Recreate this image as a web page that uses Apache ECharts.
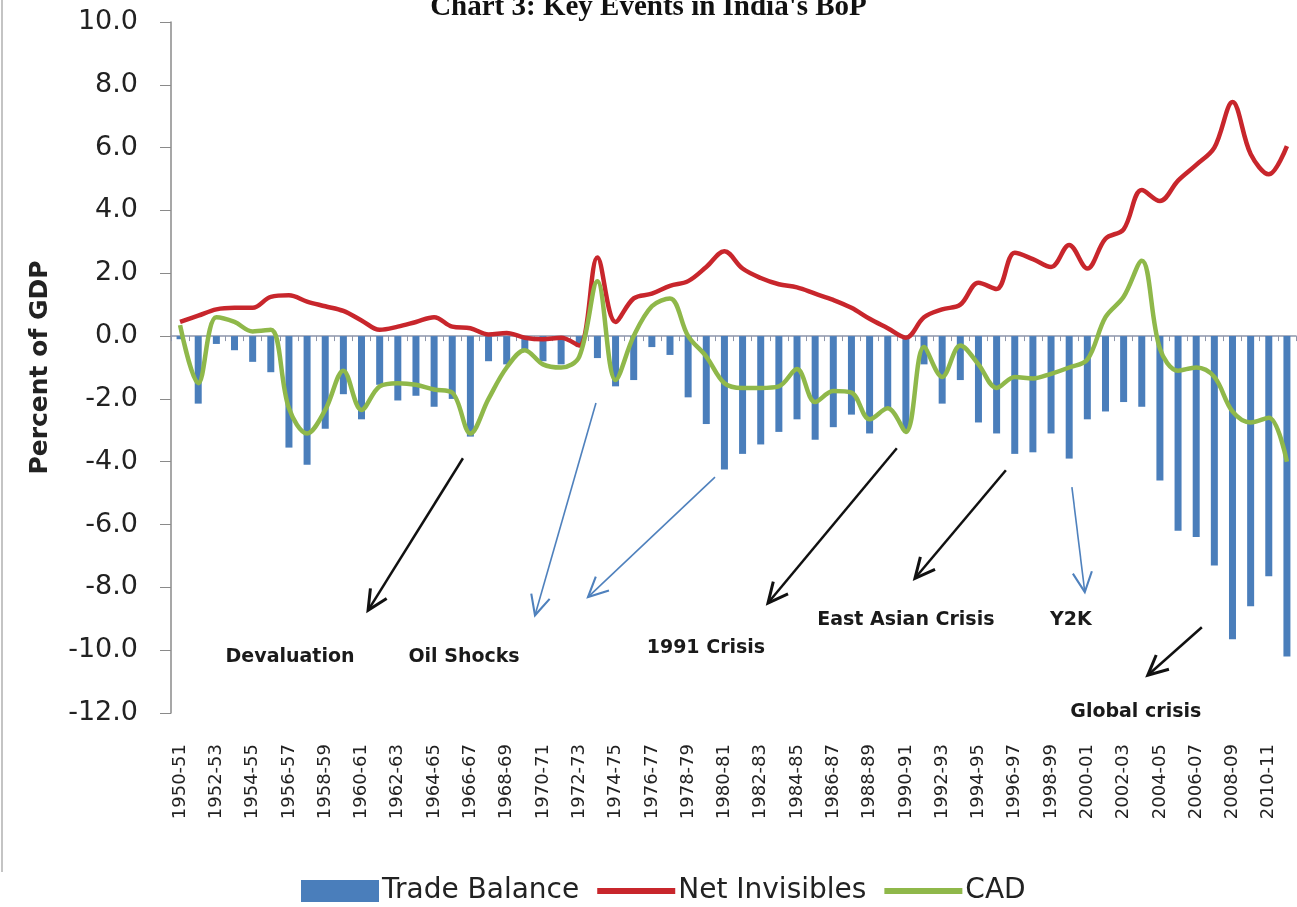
<!DOCTYPE html>
<html>
<head>
<meta charset="utf-8">
<script src="https://cdn.jsdelivr.net/npm/echarts@6/dist/echarts.min.js"></script>
<style>
  html, body { margin: 0; padding: 0; background: #ffffff; }
  #chart { width: 1297px; height: 907px; }
</style>
</head>
<body>
<div id="chart"></div>
<script>
// Fiscal years on the category axis
const years = [
  '1950-51','1951-52','1952-53','1953-54','1954-55','1955-56','1956-57','1957-58','1958-59','1959-60',
  '1960-61','1961-62','1962-63','1963-64','1964-65','1965-66','1966-67','1967-68','1968-69','1969-70',
  '1970-71','1971-72','1972-73','1973-74','1974-75','1975-76','1976-77','1977-78','1978-79','1979-80',
  '1980-81','1981-82','1982-83','1983-84','1984-85','1985-86','1986-87','1987-88','1988-89','1989-90',
  '1990-91','1991-92','1992-93','1993-94','1994-95','1995-96','1996-97','1997-98','1998-99','1999-00',
  '2000-01','2001-02','2002-03','2003-04','2004-05','2005-06','2006-07','2007-08','2008-09','2009-10',
  '2010-11','2011-12'
];

// Percent of GDP
const tradeBalance = [
  -0.1, -2.15, -0.25, -0.45, -0.82, -1.15, -3.55, -4.1, -2.95, -1.85,
  -2.65, -1.55, -2.05, -1.9, -2.25, -2.0, -3.2, -0.8, -0.9, -0.45,
  -0.8, -0.9, -0.35, -0.7, -1.6, -1.4, -0.35, -0.6, -1.95, -2.8,
  -4.25, -3.75, -3.45, -3.05, -2.65, -3.3, -2.9, -2.5, -3.1, -2.3,
  -3.0, -0.9, -2.15, -1.4, -2.75, -3.1, -3.75, -3.7, -3.1, -3.9,
  -2.65, -2.4, -2.1, -2.25, -4.6, -6.2, -6.4, -7.3, -9.65, -8.6,
  -7.65, -10.2
];

const netInvisibles = [
  0.45, 0.65, 0.85, 0.9, 0.9, 1.25, 1.3, 1.1, 0.95, 0.8,
  0.5, 0.2, 0.3, 0.45, 0.6, 0.3, 0.25, 0.05, 0.1, -0.05,
  -0.1, -0.05, -0.3, 2.5, 0.45, 1.2, 1.35, 1.6, 1.75, 2.2,
  2.7, 2.15, 1.85, 1.65, 1.55, 1.35, 1.15, 0.9, 0.55, 0.25,
  -0.05, 0.6, 0.85, 1.0, 1.7, 1.5, 2.65, 2.45, 2.2, 2.9,
  2.15, 3.1, 3.4, 4.65, 4.3, 4.95, 5.45, 6.0, 7.45, 5.8,
  5.15, 6.05
];

const cad = [
  0.35, -1.5, 0.6, 0.45, 0.15, 0.2, -2.3, -3.1, -2.35, -1.1,
  -2.35, -1.6, -1.5, -1.55, -1.7, -1.8, -3.1, -2.0, -1.0, -0.45,
  -0.9, -1.0, -0.65, 1.75, -1.4, 0.0, 0.95, 1.2, 0.0, -0.65,
  -1.5, -1.65, -1.65, -1.6, -1.05, -2.1, -1.75, -1.8, -2.65, -2.3,
  -3.05, -0.35, -1.3, -0.3, -0.9, -1.65, -1.3, -1.35, -1.2, -1.0,
  -0.75, 0.6, 1.25, 2.4, -0.4, -1.1, -1.0, -1.3, -2.4, -2.75,
  -2.6, -4.0
];

// Event annotations, in axis space: [category index, value]
const events = [
  { text: 'Devaluation',       label: [6.06, -10.22],  from: [15.59, -3.89], to: [10.36, -8.73], color: '#111111', width: 2.5 },
  { text: 'Oil Shocks',        label: [15.65, -10.22], from: [22.92, -2.13], to: [19.56, -8.89], color: '#4f81bd', width: 1.6 },
  { text: '',                  label: null,            from: [29.48, -4.49], to: [22.48, -8.31], color: '#4f81bd', width: 1.6 },
  { text: '1991 Crisis',       label: [28.98, -9.94],  from: [39.50, -3.57], to: [32.40, -8.50], color: '#111111', width: 2.5 },
  { text: 'East Asian Crisis', label: [40.0, -9.04],   from: [45.51, -4.27], to: [40.50, -7.71], color: '#111111', width: 2.5 },
  { text: 'Y2K',               label: [49.09, -9.04],  from: [49.15, -4.81], to: [49.86, -8.15], color: '#4f81bd', width: 1.6 },
  { text: 'Global crisis',     label: [52.67, -11.97], from: [56.31, -9.27], to: [53.33, -10.80], color: '#111111', width: 2.5 }
];

const BLUE = '#4a7ebb';
const RED = '#c8262c';
const GREEN = '#8fb84a';
const SANS = "'DejaVu Sans', 'Liberation Sans', sans-serif";
// thick horizontal stroke used as the legend key for the two lines
const LINE_KEY = 'path://M0,0 L78,0 L78,6 L0,6 Z';

const chart = echarts.init(document.getElementById('chart'), null, { renderer: 'canvas' });

const option = {
  backgroundColor: '#ffffff',
  animation: false,
  title: {
    text: "Chart 3: Key Events in India's BoP",
    left: 'center',
    top: -12,
    textStyle: {
      fontFamily: "'Liberation Serif', 'DejaVu Serif', serif",
      fontWeight: 'bold',
      fontSize: 29,
      color: '#111111'
    }
  },
  legend: {
    left: 296,
    top: 872,
    itemWidth: 78,
    itemHeight: 22,
    itemGap: 18,
    textStyle: { fontFamily: SANS, fontSize: 28, color: '#222222', padding: [0, 0, 0, -2] },
    data: [
      { name: 'Trade Balance', icon: 'rect' },
      { name: 'Net Invisibles', icon: LINE_KEY },
      { name: 'CAD', icon: LINE_KEY }
    ]
  },
  grid: { left: 171, top: 22, width: 1125, height: 691 },
  xAxis: [
    {
      // year labels along the bottom of the plot
      type: 'category',
      data: years,
      position: 'bottom',
      boundaryGap: true,
      axisLine: { show: false, onZero: false },
      axisTick: { show: false },
      axisLabel: {
        interval: 1,
        rotate: 90,
        margin: 31,
        fontFamily: SANS,
        fontSize: 18,
        color: '#222222'
      },
      splitLine: { show: false }
    },
    {
      // baseline through zero with category ticks
      type: 'category',
      data: years,
      position: 'bottom',
      boundaryGap: true,
      axisLine: { show: true, onZero: true, lineStyle: { color: '#8d95aa', width: 1.5 } },
      axisTick: { show: true, interval: 0, length: 5, lineStyle: { color: '#8d95aa' } },
      axisLabel: { show: false },
      splitLine: { show: false }
    }
  ],
  yAxis: {
    type: 'value',
    min: -12,
    max: 10,
    interval: 2,
    name: 'Percent of GDP',
    nameLocation: 'middle',
    nameRotate: 90,
    nameGap: 118,
    nameTextStyle: { fontFamily: SANS, fontWeight: 'bold', fontSize: 25, color: '#222222' },
    axisLine: { show: true, lineStyle: { color: '#8a8a8a', width: 1.5 } },
    axisTick: { show: true, length: 11, lineStyle: { color: '#8a8a8a' } },
    axisLabel: {
      margin: 33,
      fontFamily: SANS,
      fontSize: 27,
      color: '#222222',
      formatter: v => v.toFixed(1)
    },
    splitLine: { show: false }
  },
  series: [
    {
      name: 'Trade Balance',
      type: 'bar',
      data: tradeBalance,
      barWidth: 7,
      itemStyle: { color: BLUE },
      z: 2
    },
    {
      name: 'Net Invisibles',
      type: 'line',
      data: netInvisibles,
      smooth: 0.35,
      symbol: 'none',
      lineStyle: { color: RED, width: 4.5 },
      itemStyle: { color: RED },
      z: 3
    },
    {
      name: 'CAD',
      type: 'line',
      data: cad,
      smooth: 0.35,
      symbol: 'none',
      lineStyle: { color: GREEN, width: 4.5 },
      itemStyle: { color: GREEN },
      z: 4
    }
  ]
};

chart.setOption(option);

// Map axis-space annotation points to pixels
const toPx = (p) => {
  const a = chart.convertToPixel({ xAxisIndex: 0, yAxisIndex: 0 }, [0, 0]);
  const b = chart.convertToPixel({ xAxisIndex: 0, yAxisIndex: 0 }, [61, 10]);
  return [a[0] + (b[0] - a[0]) * p[0] / 61, a[1] + (b[1] - a[1]) * p[1] / 10];
};

const graphics = [
  {
    type: 'line',
    shape: { x1: 2, y1: 0, x2: 2, y2: 872 },
    style: { stroke: '#c4c4c4', lineWidth: 2 },
    silent: true
  }
];

events.forEach(ev => {
  const s = toPx(ev.from);
  const e = toPx(ev.to);
  const ang = Math.atan2(e[1] - s[1], e[0] - s[0]);
  const head = 22, spread = 0.45;
  const w1 = [e[0] - head * Math.cos(ang - spread), e[1] - head * Math.sin(ang - spread)];
  const w2 = [e[0] - head * Math.cos(ang + spread), e[1] - head * Math.sin(ang + spread)];
  graphics.push({
    type: 'line',
    shape: { x1: s[0], y1: s[1], x2: e[0], y2: e[1] },
    style: { stroke: ev.color, lineWidth: ev.width },
    silent: true,
    z: 10
  });
  graphics.push({
    type: 'polyline',
    shape: { points: [w1, e, w2] },
    style: { stroke: ev.color, lineWidth: ev.width + 0.5, fill: null },
    silent: true,
    z: 10
  });
  if (ev.label) {
    const t = toPx(ev.label);
    graphics.push({
      type: 'text',
      x: t[0],
      y: t[1],
      style: {
        text: ev.text,
        fontFamily: SANS,
        fontWeight: 'bold',
        fontSize: 19,
        fill: '#1a1a1a',
        textAlign: 'center',
        textVerticalAlign: 'middle'
      },
      silent: true,
      z: 10
    });
  }
});

chart.setOption({ graphic: graphics });
</script>
</body>
</html>
